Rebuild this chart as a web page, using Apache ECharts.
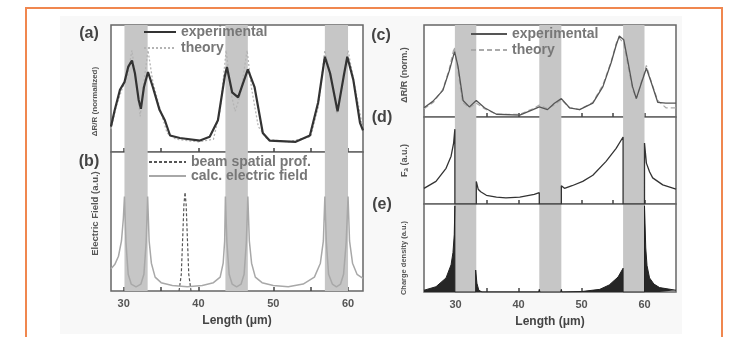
<!DOCTYPE html>
<html>
<head>
<meta charset="utf-8">
<script src="https://cdn.jsdelivr.net/npm/echarts@6/dist/echarts.min.js"></script>
<style>
  html, body { margin: 0; padding: 0; background: #fff; }
  #chart { width: 732px; height: 337px; }
</style>
</head>
<body>
<div id="chart"></div>
<script>
// ---- data: x in µm, y normalized 0..1 ----
const leftBands = [[30.1, 33.2], [43.6, 46.6], [56.9, 60.0]];
const rightBands = [[29.9, 33.3], [43.3, 46.8], [56.6, 60.0]];
const tickValues = [30, 35, 40, 45, 50, 55, 60];
const labelValues = [30, 40, 50, 60];

// (a) reflectance change, normalized
const aExperimental = [
  [28.3, 0.2], [28.8, 0.33], [29.5, 0.49], [30.1, 0.55], [30.6, 0.67], [31.1, 0.72],
  [31.5, 0.62], [32.0, 0.41], [32.3, 0.34], [32.7, 0.51], [33.25, 0.63], [33.9, 0.51],
  [34.8, 0.33], [35.5, 0.25], [36.2, 0.13], [37.5, 0.11], [40.2, 0.09], [41.5, 0.12],
  [42.6, 0.25], [43.5, 0.59], [43.8, 0.67], [44.5, 0.47], [45.3, 0.43], [46.6, 0.65],
  [47.5, 0.51], [48.6, 0.15], [49.5, 0.09], [53.0, 0.08], [54.9, 0.13], [56.0, 0.39],
  [56.9, 0.75], [57.6, 0.62], [58.6, 0.32], [59.4, 0.59], [59.9, 0.75], [60.7, 0.57],
  [61.6, 0.23], [62.0, 0.17]
];
const aTheory = [
  [28.3, 0.18], [29.0, 0.36], [29.8, 0.5], [30.5, 0.6], [31.1, 0.8], [31.7, 0.55],
  [32.2, 0.28], [32.7, 0.55], [33.25, 0.8], [33.9, 0.55], [34.8, 0.35], [35.8, 0.15],
  [37.0, 0.1], [40.0, 0.08], [42.0, 0.1], [42.9, 0.33], [43.7, 0.8], [44.4, 0.45],
  [44.9, 0.32], [45.6, 0.45], [46.5, 0.8], [47.1, 0.5], [48.0, 0.2], [49.2, 0.1],
  [52.0, 0.08], [55.0, 0.12], [56.0, 0.35], [56.9, 0.8], [57.7, 0.6], [58.5, 0.3],
  [59.3, 0.55], [60.0, 0.8], [60.8, 0.55], [62.0, 0.18]
];

// (b) beam profile and calculated electric field
const bBeam = [
  [37.4, 0.0], [37.7, 0.12], [37.9, 0.4], [38.05, 0.62], [38.2, 0.71],
  [38.35, 0.62], [38.5, 0.4], [38.7, 0.12], [39.0, 0.0]
];
const bField = [
  [28.3, 0.16], [28.8, 0.19], [29.3, 0.25], [29.7, 0.36], [29.95, 0.52], [30.1, 0.68],
  [30.3, 0.35], [30.6, 0.12], [31.0, 0.05], [31.65, 0.03], [32.3, 0.05], [32.7, 0.12],
  [33.0, 0.35], [33.2, 0.68], [33.4, 0.36], [33.7, 0.2], [34.2, 0.1], [35.0, 0.06],
  [36.5, 0.04], [38.5, 0.03], [40.5, 0.04], [42.0, 0.06], [42.9, 0.1], [43.3, 0.2],
  [43.5, 0.36], [43.6, 0.68], [43.8, 0.35], [44.1, 0.12], [44.5, 0.05], [45.1, 0.03],
  [45.7, 0.05], [46.1, 0.12], [46.4, 0.35], [46.6, 0.68], [46.8, 0.36], [47.1, 0.2],
  [47.6, 0.1], [48.5, 0.06], [50.0, 0.04], [52.0, 0.03], [54.0, 0.05], [55.5, 0.1],
  [56.3, 0.2], [56.7, 0.36], [56.9, 0.68], [57.1, 0.35], [57.4, 0.12], [57.9, 0.05],
  [58.45, 0.03], [59.0, 0.05], [59.4, 0.12], [59.75, 0.35], [60.0, 0.68], [60.2, 0.36],
  [60.6, 0.2], [61.2, 0.12], [62.0, 0.09]
];

// (c) reflectance change, second sample
const cExperimental = [
  [25.0, 0.1], [26.4, 0.17], [28.0, 0.29], [29.05, 0.51], [29.85, 0.71], [30.4, 0.55],
  [31.2, 0.18], [32.2, 0.11], [33.3, 0.18], [34.6, 0.1], [36.5, 0.03], [40.2, 0.02],
  [42.3, 0.08], [43.3, 0.11], [44.6, 0.08], [45.7, 0.15], [46.8, 0.2], [48.1, 0.1],
  [49.7, 0.08], [51.8, 0.15], [53.4, 0.33], [54.7, 0.59], [55.5, 0.78], [56.0, 0.88],
  [56.7, 0.84], [57.4, 0.59], [58.1, 0.33], [58.7, 0.2], [59.5, 0.37], [60.3, 0.53],
  [61.1, 0.37], [62.1, 0.16], [63.4, 0.15], [65.0, 0.15]
];
const cTheory = [
  [25.0, 0.09], [26.5, 0.16], [28.0, 0.3], [29.0, 0.52], [29.8, 0.76], [30.4, 0.5],
  [31.1, 0.16], [32.2, 0.1], [33.3, 0.15], [34.6, 0.09], [36.5, 0.03], [40.2, 0.03],
  [42.3, 0.09], [43.3, 0.13], [44.6, 0.09], [45.7, 0.13], [46.8, 0.19], [48.1, 0.1],
  [49.7, 0.08], [51.8, 0.16], [53.4, 0.35], [54.7, 0.6], [55.5, 0.8], [56.0, 0.86],
  [56.7, 0.8], [57.4, 0.55], [58.1, 0.3], [58.7, 0.2], [59.5, 0.38], [60.3, 0.56],
  [61.1, 0.38], [62.1, 0.18], [63.4, 0.1], [65.0, 0.1]
];

// (d) F_a
const dForce = [
  [25.0, 0.18], [26.9, 0.26], [28.5, 0.41], [29.3, 0.55], [29.7, 0.7], [29.9, 0.86],
  [29.9, 0], [33.3, 0], [33.3, 0.26], [33.6, 0.17], [34.0, 0.14], [34.9, 0.1],
  [36.5, 0.08], [38.0, 0.07], [40.2, 0.08], [42.5, 0.11], [43.3, 0.13], [43.3, 0],
  [46.8, 0], [46.8, 0.21], [47.3, 0.18], [48.5, 0.21], [50.2, 0.26], [51.8, 0.33],
  [53.9, 0.49], [55.5, 0.64], [56.6, 0.77], [56.6, 0], [60.0, 0], [60.0, 0.7],
  [60.3, 0.47], [60.8, 0.37], [61.3, 0.3], [62.9, 0.22], [65.0, 0.17]
];

// (e) charge density
const eCharge = [
  [25.0, 0.02], [26.9, 0.06], [28.5, 0.16], [29.3, 0.31], [29.6, 0.45], [29.8, 0.65],
  [29.9, 0.98], [29.9, 0], [33.2, 0], [33.2, 0.25], [33.4, 0.1], [33.7, 0.02],
  [34.2, 0], [43.2, 0], [43.3, 0.03], [43.4, 0], [46.7, 0], [46.8, 0.03], [46.9, 0],
  [50.0, 0.005], [52.9, 0.03], [54.4, 0.08], [55.8, 0.17], [56.6, 0.27], [56.6, 0],
  [60.0, 0], [60.0, 0.98], [60.2, 0.5], [60.4, 0.3], [60.8, 0.16], [61.5, 0.09],
  [62.4, 0.05], [65.0, 0.02]
];

// ---- styling helpers ----
const FONT = "'Liberation Sans', Arial, 'DejaVu Sans', sans-serif";
const AXIS_GRAY = '#666';
const BAND_GRAY = '#c6c6c6';

function bandArea(bands) {
  return {
    silent: true,
    itemStyle: { color: BAND_GRAY },
    data: bands.map(b => [{ xAxis: b[0] }, { xAxis: b[1] }])
  };
}

function xAxisFor(gridIndex, min, max, withLabels) {
  return {
    type: 'value', gridIndex, min, max,
    axisLine: { show: false },
    splitLine: { show: false },
    axisTick: {
      show: true, inside: true, length: 4, customValues: tickValues,
      lineStyle: { color: '#444', width: 1.5 }
    },
    axisLabel: {
      show: withLabels, customValues: labelValues, margin: 7,
      color: '#555', fontSize: 11, fontWeight: 'bold', fontFamily: FONT
    },
    name: withLabels ? 'Length (\u03bcm)' : '',
    nameLocation: 'middle', nameGap: 24,
    nameTextStyle: { color: '#444', fontSize: 12, fontWeight: 'bold', fontFamily: FONT }
  };
}

function yAxisFor(gridIndex, name, size, gap, pad) {
  return {
    type: 'value', gridIndex, min: 0, max: 1,
    axisLine: { show: false }, axisTick: { show: false },
    axisLabel: { show: false }, splitLine: { show: false },
    name, nameLocation: 'middle', nameGap: gap,
    nameTextStyle: {
      color: '#555', fontSize: size, fontWeight: 'bold', fontFamily: FONT, padding: pad
    }
  };
}

function gridBox(left, top, height) {
  return {
    left, top, width: 252, height,
    show: true, backgroundColor: '#fff',
    borderColor: AXIS_GRAY, borderWidth: 1.5
  };
}

function lineSeries(name, idx, data, color, width, type) {
  return {
    name, type: 'line', xAxisIndex: idx, yAxisIndex: idx, data,
    symbol: 'none', showSymbol: false, smooth: false, animation: false,
    lineStyle: { color, width, type: type || 'solid' },
    itemStyle: { color }
  };
}

const legendText = { color: '#777', fontSize: 14, fontWeight: 'bold', fontFamily: FONT };
const stripTag = name => name.split('#')[0];
// legend keys show only the line sample, no marker
const legendBase = {
  orient: 'vertical', itemHeight: 10, selectedMode: false, padding: 0,
  formatter: stripTag, textStyle: legendText,
  itemStyle: { opacity: 0, borderWidth: 0 }
};

const sA1 = lineSeries('experimental#a', 0, aExperimental, '#333', 2.2);
sA1.markArea = bandArea(leftBands);
const sA2 = lineSeries('theory#a', 0, aTheory, '#b4b4b4', 1.3, [2, 2]);
sA2.z = 2;

const sB1 = lineSeries('beam spatial prof.#b', 1, bBeam, '#555', 1.2, [3, 2]);
sB1.markArea = bandArea(leftBands);
const sB2 = lineSeries('calc. electric field#b', 1, bField, '#a8a8a8', 1.5);

const sC1 = lineSeries('experimental#c', 2, cExperimental, '#555', 1.3);
sC1.markArea = bandArea(rightBands);
const sC2 = lineSeries('theory#c', 2, cTheory, '#aaa', 1.2, [5, 3]);
sC2.z = 2;

const sD = lineSeries('Fa', 3, dForce, '#333', 1.3);
sD.markArea = bandArea(rightBands);

const sE = lineSeries('charge', 4, eCharge, '#222', 1);
sE.areaStyle = { color: '#262626', opacity: 1 };
sE.markArea = bandArea(rightBands);

function panelLetter(text, x, y) {
  return {
    type: 'text', x, y, z: 10,
    style: {
      text, fill: '#444', font: 'bold 16px ' + FONT,
      align: 'center', verticalAlign: 'middle'
    }
  };
}

const option = {
  animation: false,
  backgroundColor: '#fff',
  grid: [
    gridBox(111, 25, 127),
    gridBox(111, 152, 139),
    gridBox(424, 25, 92),
    gridBox(424, 117, 87),
    gridBox(424, 204, 88)
  ],
  xAxis: [
    xAxisFor(0, 28.3, 62, false),
    xAxisFor(1, 28.3, 62, true),
    xAxisFor(2, 25, 65, false),
    xAxisFor(3, 25, 65, false),
    xAxisFor(4, 25, 65, true)
  ],
  yAxis: [
    yAxisFor(0, '\u0394R/R (normalized)', 8, 12, [0, 26, 0, 0]),
    yAxisFor(1, 'Electric Field (a.u.)', 9.5, 11, [0, 0, 0, 16]),
    yAxisFor(2, '\u0394R/R (norm.)', 9, 15, [0, 8, 0, 0]),
    yAxisFor(3, 'F\u2090 (a.u.)', 9, 15, [0, 0, 0, 0]),
    yAxisFor(4, 'Charge density (a.u.)', 7.5, 16, [0, 20, 0, 0])
  ],
  legend: [
    Object.assign({}, legendBase, {
      data: ['experimental#a', 'theory#a'], left: 143, top: 25, itemWidth: 32, itemGap: 2
    }),
    Object.assign({}, legendBase, {
      data: ['beam spatial prof.#b', 'calc. electric field#b'], left: 148, top: 155,
      itemWidth: 37, itemGap: 0
    }),
    Object.assign({}, legendBase, {
      data: ['experimental#c', 'theory#c'], left: 470, top: 27, itemWidth: 36, itemGap: 2
    })
  ],
  series: [sA1, sA2, sB1, sB2, sC1, sC2, sD, sE],
  graphic: [
    {
      type: 'rect', z: -10, silent: true,
      shape: { x: 60, y: 16, width: 622, height: 318 },
      style: { fill: '#f8f8f8' }
    },
    {
      type: 'rect', z: 20, silent: true,
      shape: { x: 26, y: 8, width: 696, height: 340 },
      style: { fill: 'none', stroke: '#f0874f', lineWidth: 2 }
    },
    panelLetter('(a)', 89, 34),
    panelLetter('(b)', 89, 162),
    panelLetter('(c)', 381, 36),
    panelLetter('(d)', 382, 118),
    panelLetter('(e)', 382, 205)
  ]
};

const chart = echarts.init(document.getElementById('chart'), null, { renderer: 'canvas' });
chart.setOption(option);
</script>
</body>
</html>
